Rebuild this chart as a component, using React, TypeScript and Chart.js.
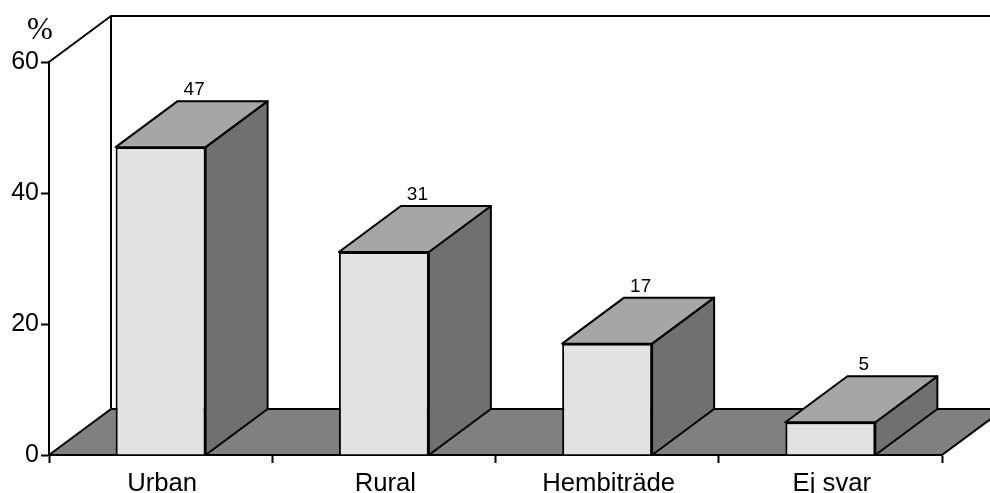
import React, { useEffect, useRef } from "react";
import { Chart, registerables } from "chart.js";

Chart.register(...registerables);

const categories = ["Urban", "Rural", "Hembiträde", "Ej svar"];
const values = [47, 31, 17, 5];
const yTicks = [0, 20, 40, 60];

const DX = 62;
const DY = 46;
const INK = "#000000";

function poly(ctx: CanvasRenderingContext2D, pts: number[][], fill: string) {
  ctx.beginPath();
  pts.forEach((p, i) => (i ? ctx.lineTo(p[0], p[1]) : ctx.moveTo(p[0], p[1])));
  ctx.closePath();
  ctx.fillStyle = fill;
  ctx.fill();
  ctx.stroke();
}

const depthPlugin = {
  id: "depth",
  beforeDatasetsDraw(chart: any) {
    const { ctx, chartArea: a, canvas } = chart;
    ctx.save();
    ctx.strokeStyle = INK;
    ctx.lineWidth = 2;
    ctx.lineJoin = "round";
    // floor
    poly(
      ctx,
      [
        [a.left, a.bottom],
        [a.left + DX, a.bottom - DY],
        [a.right + DX, a.bottom - DY],
        [a.right, a.bottom],
      ],
      "#808080"
    );
    // back wall edges
    ctx.beginPath();
    ctx.moveTo(a.left, a.top);
    ctx.lineTo(a.left + DX, a.top - DY);
    ctx.lineTo(canvas.width + 4, a.top - DY);
    ctx.moveTo(a.left + DX, a.top - DY);
    ctx.lineTo(a.left + DX, a.bottom - DY);
    ctx.stroke();
    ctx.restore();
  },
  afterDatasetsDraw(chart: any) {
    const { ctx, chartArea: a } = chart;
    const bars = chart.getDatasetMeta(0).data;
    ctx.save();
    ctx.strokeStyle = INK;
    ctx.lineWidth = 2;
    ctx.lineJoin = "round";
    bars.forEach((bar: any, i: number) => {
      const l = bar.x - bar.width / 2;
      const r = bar.x + bar.width / 2;
      const t = bar.y;
      const b = a.bottom;
      poly(ctx, [[r, t], [r + DX, t - DY], [r + DX, b - DY], [r, b]], "#707070");
      poly(ctx, [[l, t], [l + DX, t - DY], [r + DX, t - DY], [r, t]], "#a6a6a6");
      ctx.fillStyle = INK;
      ctx.font = '19px "Liberation Sans", Arial, sans-serif';
      ctx.textAlign = "center";
      ctx.textBaseline = "alphabetic";
      ctx.fillText(String(values[i]), bar.x + DX / 2 + 2.5, t - DY - 6);
    });
    // unit mark
    ctx.fillStyle = INK;
    ctx.font = '31px "Liberation Serif", "Times New Roman", serif';
    ctx.textAlign = "center";
    ctx.fillText("%", 40, 39);
    ctx.restore();
  },
};

export default function App() {
  const ref = useRef<HTMLCanvasElement>(null);
  useEffect(() => {
    document.body.style.margin = "0";
    const chart = new Chart(ref.current!, {
      type: "bar",
      data: {
        labels: categories,
        datasets: [
          {
            data: values,
            backgroundColor: "#e2e2e2",
            borderColor: INK,
            borderWidth: 2,
            barPercentage: 0.403,
            categoryPercentage: 1,
          },
        ],
      },
      options: {
        responsive: false,
        animation: false,
        devicePixelRatio: 1,
        layout: { padding: { left: 0, top: 62, right: 48, bottom: 0 } },
        plugins: { legend: { display: false }, tooltip: { enabled: false }, title: { display: false } },
        scales: {
          x: {
            afterFit(s: any) {
              s.height = 38;
            },
            border: { display: true, color: INK, width: 2 },
            grid: { display: true, drawOnChartArea: false, drawTicks: true, tickLength: 8, tickColor: INK, tickWidth: 2, offset: true },
            ticks: { color: INK, padding: 5, labelOffset: 1.5, maxRotation: 0, autoSkip: false, font: { family: '"Liberation Sans", Arial, sans-serif', size: 25.7 } },
          },
          y: {
            min: 0,
            max: 60,
            afterFit(s: any) {
              s.width = 49;
            },
            afterBuildTicks(s: any) {
              s.ticks = yTicks.map((value) => ({ value }));
            },
            border: { display: true, color: INK, width: 2 },
            grid: { display: true, drawOnChartArea: false, drawTicks: true, tickLength: 8, tickColor: INK, tickWidth: 2 },
            ticks: { color: INK, padding: 2, font: { family: '"Liberation Sans", Arial, sans-serif', size: 25 } },
          },
        },
      },
      plugins: [depthPlugin],
    } as any);
    return () => chart.destroy();
  }, []);
  return (
    <div style={{ width: 990, height: 493, overflow: "hidden" }}>
      <canvas ref={ref} width={990} height={493} style={{ display: "block" }} />
    </div>
  );
}
